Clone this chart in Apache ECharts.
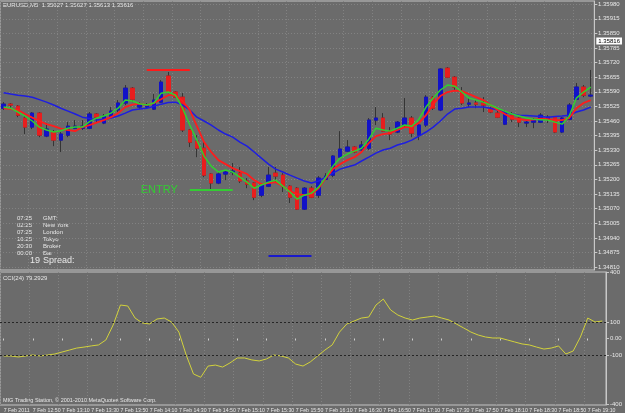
<!DOCTYPE html>
<html>
<head>
<meta charset="utf-8">
<script src="https://cdn.jsdelivr.net/npm/echarts@6/dist/echarts.min.js"></script>
<style>
html, body { margin: 0; padding: 0; background: #6b6b6b; }
#chart { width: 625px; height: 413px; }
</style>
</head>
<body>
<div id="chart"></div>
<script>
// EURUSD M5, 7 Feb 2011
var times = [
	'12:30','12:35','12:40','12:45','12:50','12:55',
	'13:00','13:05','13:10','13:15','13:20','13:25','13:30','13:35','13:40','13:45','13:50','13:55',
	'14:00','14:05','14:10','14:15','14:20','14:25','14:30','14:35','14:40','14:45','14:50','14:55',
	'15:00','15:05','15:10','15:15','15:20','15:25','15:30','15:35','15:40','15:45','15:50','15:55',
	'16:00','16:05','16:10','16:15','16:20','16:25','16:30','16:35','16:40','16:45','16:50','16:55',
	'17:00','17:05','17:10','17:15','17:20','17:25','17:30','17:35','17:40','17:45','17:50','17:55',
	'18:00','18:05','18:10','18:15','18:20','18:25','18:30','18:35','18:40','18:45','18:50','18:55',
	'19:00','19:05','19:10','19:15','19:20'
];

var opens = [
	1.35517,1.35535,1.35526,1.35473,1.35433,1.35495,1.35393,1.35411,1.35375,1.35397,
	1.35428,1.35428,1.35428,1.35491,1.35451,1.35477,1.35509,1.35540,1.35606,1.35522,
	1.35522,1.35513,1.35544,1.35660,1.35589,1.35566,1.35420,1.35371,1.35339,1.35224,
	1.35184,1.35224,1.35233,1.35228,1.35193,1.35184,1.35130,1.35170,1.35228,1.35219,
	1.35170,1.35161,1.35068,1.35161,1.35130,1.35201,1.35219,1.35299,1.35326,1.35344,
	1.35331,1.35339,1.35464,1.35473,1.35415,1.35411,1.35442,1.35473,1.35397,1.35442,
	1.35566,1.35509,1.35695,1.35655,1.35589,1.35535,1.35540,1.35540,1.35513,1.35495,
	1.35446,1.35486,1.35473,1.35451,1.35455,1.35455,1.35468,1.35477,1.35411,1.35468,
	1.35557,1.35611,1.35571
];
var closes = [
	1.35535,1.35531,1.35486,1.35433,1.35495,1.35397,1.35424,1.35375,1.35402,1.35437,
	1.35437,1.35437,1.35491,1.35477,1.35482,1.35504,1.35540,1.35606,1.35557,1.35535,
	1.35531,1.35553,1.35633,1.35589,1.35566,1.35420,1.35366,1.35339,1.35219,1.35184,
	1.35224,1.35233,1.35237,1.35193,1.35179,1.35121,1.35175,1.35219,1.35215,1.35170,
	1.35121,1.35068,1.35161,1.35121,1.35206,1.35215,1.35304,1.35335,1.35344,1.35322,
	1.35353,1.35464,1.35473,1.35415,1.35402,1.35455,1.35473,1.35406,1.35442,1.35566,
	1.35517,1.35691,1.35655,1.35611,1.35540,1.35540,1.35535,1.35531,1.35500,1.35477,
	1.35500,1.35468,1.35455,1.35455,1.35464,1.35486,1.35477,1.35411,1.35473,1.35531,
	1.35611,1.35575,1.35575
];
var lows = [
	1.35509,1.35509,1.35477,1.35402,1.35424,1.35388,1.35388,1.35348,1.35322,1.35388,
	1.35424,1.35420,1.35424,1.35455,1.35446,1.35473,1.35500,1.35531,1.35544,1.35513,
	1.35517,1.35509,1.35540,1.35584,1.35562,1.35411,1.35344,1.35299,1.35210,1.35153,
	1.35179,1.35197,1.35219,1.35184,1.35161,1.35108,1.35121,1.35166,1.35184,1.35144,
	1.35095,1.35064,1.35064,1.35117,1.35117,1.35197,1.35210,1.35295,1.35322,1.35317,
	1.35326,1.35331,1.35442,1.35411,1.35375,1.35406,1.35433,1.35388,1.35375,1.35433,
	1.35509,1.35504,1.35651,1.35598,1.35531,1.35522,1.35517,1.35500,1.35495,1.35473,
	1.35442,1.35455,1.35433,1.35433,1.35428,1.35451,1.35451,1.35406,1.35406,1.35464,
	1.35553,1.35566,1.35566
];
var highs = [
	1.35544,1.35540,1.35531,1.35482,1.35500,1.35500,1.35451,1.35420,1.35411,1.35455,
	1.35464,1.35464,1.35500,1.35495,1.35491,1.35522,1.35553,1.35620,1.35611,1.35544,
	1.35540,1.35580,1.35642,1.35678,1.35593,1.35584,1.35424,1.35397,1.35371,1.35228,
	1.35233,1.35242,1.35273,1.35255,1.35206,1.35188,1.35184,1.35255,1.35255,1.35228,
	1.35175,1.35166,1.35166,1.35170,1.35215,1.35228,1.35308,1.35415,1.35375,1.35348,
	1.35371,1.35473,1.35522,1.35495,1.35433,1.35460,1.35562,1.35482,1.35451,1.35575,
	1.35571,1.35695,1.35700,1.35660,1.35611,1.35566,1.35553,1.35566,1.35522,1.35509,
	1.35509,1.35500,1.35477,1.35464,1.35473,1.35495,1.35486,1.35482,1.35477,1.35540,
	1.35629,1.35620,1.35687
];

// moving averages as drawn on the chart
var maSlow = [
	1.35586,1.35580,1.35575,1.35571,1.35566,1.35555,1.35544,1.35531,1.35517,1.35504,
	1.35491,1.35477,1.35471,1.35464,1.35468,1.35473,1.35482,1.35495,1.35509,1.35513,
	1.35517,1.35526,1.35535,1.35542,1.35544,1.35531,1.35509,1.35477,1.35460,1.35442,
	1.35420,1.35402,1.35388,1.35366,1.35348,1.35322,1.35295,1.35268,1.35246,1.35233,
	1.35219,1.35206,1.35193,1.35184,1.35193,1.35210,1.35228,1.35246,1.35255,1.35264,
	1.35282,1.35299,1.35317,1.35331,1.35339,1.35353,1.35362,1.35375,1.35393,1.35411,
	1.35433,1.35460,1.35491,1.35513,1.35517,1.35522,1.35522,1.35522,1.35517,1.35509,
	1.35500,1.35491,1.35486,1.35484,1.35482,1.35480,1.35477,1.35480,1.35482,1.35486,
	1.35500,1.35509,1.35522
];
var maMid = [
	1.35517,1.35513,1.35509,1.35491,1.35475,1.35460,1.35446,1.35437,1.35426,1.35420,
	1.35415,1.35433,1.35442,1.35453,1.35464,1.35477,1.35495,1.35522,1.35533,1.35537,
	1.35531,1.35540,1.35557,1.35575,1.35575,1.35549,1.35509,1.35437,1.35366,1.35322,
	1.35286,1.35268,1.35250,1.35237,1.35224,1.35197,1.35179,1.35184,1.35188,1.35170,
	1.35148,1.35135,1.35130,1.35135,1.35161,1.35206,1.35246,1.35268,1.35286,1.35299,
	1.35322,1.35362,1.35393,1.35402,1.35406,1.35420,1.35433,1.35433,1.35451,1.35486,
	1.35535,1.35571,1.35589,1.35595,1.35593,1.35580,1.35566,1.35553,1.35531,1.35509,
	1.35491,1.35473,1.35468,1.35464,1.35466,1.35471,1.35468,1.35464,1.35464,1.35473,
	1.35517,1.35540,1.35553
];
var maFast = [
	1.35522,1.35517,1.35500,1.35482,1.35460,1.35433,1.35420,1.35411,1.35417,1.35428,
	1.35433,1.35433,1.35457,1.35473,1.35482,1.35495,1.35517,1.35553,1.35549,1.35537,
	1.35531,1.35540,1.35584,1.35589,1.35575,1.35517,1.35442,1.35375,1.35304,1.35259,
	1.35233,1.35242,1.35233,1.35210,1.35188,1.35161,1.35175,1.35188,1.35197,1.35170,
	1.35144,1.35112,1.35130,1.35139,1.35166,1.35210,1.35259,1.35295,1.35313,1.35326,
	1.35339,1.35379,1.35428,1.35420,1.35415,1.35428,1.35442,1.35437,1.35468,1.35522,
	1.35562,1.35598,1.35620,1.35615,1.35589,1.35562,1.35553,1.35544,1.35531,1.35517,
	1.35504,1.35491,1.35482,1.35473,1.35468,1.35466,1.35464,1.35455,1.35446,1.35482,
	1.35562,1.35589,1.35611
];

var cci = [
	-106,-106,-112,-106,-100,-106,-100,-94,-82,-70,
	-58,-52,-45,-39,-9,82,203,197,124,94,
	88,118,124,100,39,-100,-215,-235,-167,-161,
	-173,-148,-118,-118,-130,-136,-124,-100,-106,-118,
	-155,-167,-142,-106,-70,-39,39,88,106,124,
	130,203,239,173,142,124,112,124,130,136,
	124,112,88,64,39,21,9,3,3,-9,
	-21,-33,-39,-52,-64,-58,-45,-94,-76,9,
	124,100,106
];

var priceTicks = [
	1.34810,1.34875,1.34940,1.35005,1.35070,1.35135,1.35200,1.35265,1.35330,1.35395,
	1.35460,1.35525,1.35590,1.35655,1.35720,1.35785,1.35850,1.35915,1.35980
];
var bidPrice = 1.35816;
var cciTicks = [400, 100, 0, -100, -400];
var cciLevels = [100, -100];

// drawn objects: start bar, end bar, price
var objStart = [20, 26, 37];
var objEnd = [26, 32, 43];
var objPrice = [1.35687, 1.35153, 1.34859];

var infoTimes = ['07:25', '02:25', '07:25', '16:25', '20:30', '00:00'];
var infoNames = ['GMT:', 'New York', 'London', 'Tokyo', 'Broker', 'Bar'];
var spread = '19';

var bull = '#1212c8', bear = '#e81e1e', wickColor = '#353535';
var txt = '#e8e8e8';
var font = 'Liberation Sans, Arial, sans-serif';

var myChart = echarts.init(document.getElementById('chart'));

var candles = [], bodies = [];
for (var i = 0; i < times.length; i++) {
	candles.push([opens[i], closes[i], lows[i], highs[i]]);
	bodies.push([opens[i], closes[i], Math.min(opens[i], closes[i]), Math.max(opens[i], closes[i])]);
}

var objColors = ['#ff1a1a', '#33cc33', '#1a1acc'];
var objLines = [];
for (var k = 0; k < objPrice.length; k++) {
	objLines.push([
		{coord: [objStart[k], objPrice[k]], lineStyle: {color: objColors[k], width: 2, type: 'solid'},
			label: k == 1 ? {show: true, position: 'start', formatter: 'ENTRY', color: '#33cc33', fontSize: 11, distance: 12, fontFamily: font} : {show: false}},
		{coord: [objEnd[k], objPrice[k]]}
	]);
}

var infoGraphics = [];
for (var j = 0; j < infoTimes.length; j++) {
	infoGraphics.push({type: 'text', x: 32, y: 215 + j * 7.1,
		style: {text: infoTimes[j], fill: txt, font: '6px ' + font, textAlign: 'right'}});
	infoGraphics.push({type: 'text', x: 43, y: 215 + j * 7.1,
		style: {text: infoNames[j], fill: txt, font: '6px ' + font}});
}
infoGraphics.push({type: 'text', x: 40, y: 256, style: {text: spread, fill: txt, font: '9px ' + font, textAlign: 'right'}});
infoGraphics.push({type: 'text', x: 43, y: 256, style: {text: 'Spread:', fill: txt, font: '9px ' + font}});

option = {
	backgroundColor: '#6b6b6b',
	animation: false,
	textStyle: {fontFamily: font},
	grid: [
		{left: 0, right: 17, top: 1, height: 269, show: true, borderColor: '#c4c4c4', borderWidth: 1},
		{left: 0, right: 17, top: 272, height: 133, show: true, borderColor: '#c4c4c4', borderWidth: 1}
	],
	xAxis: [
		{
			type: 'category', gridIndex: 0, data: times, boundaryGap: true,
			axisLine: {show: false}, axisTick: {show: false}, axisLabel: {show: false},
			splitLine: {show: true, interval: 3, lineStyle: {color: '#828282', type: [1, 2]}}
		},
		{
			type: 'category', gridIndex: 1, data: times, boundaryGap: true,
			axisLine: {show: false},
			axisTick: {show: true, interval: 3, alignWithLabel: true, length: 2, lineStyle: {color: '#d0d0d0'}},
			axisLabel: {
				interval: 3, align: 'left', fontSize: 5.2, color: txt, margin: 3,
				showMinLabel: true, hideOverlap: false,
				formatter: function(v) { return v === times[0] ? '7 Feb 2011' : '7 Feb ' + v; }
			},
			splitLine: {show: true, interval: 3, lineStyle: {color: '#828282', type: [1, 2]}}
		}
	],
	yAxis: [
		{
			type: 'value', gridIndex: 0, position: 'right', min: 1.34797, max: 1.35994,
			axisLine: {show: true, lineStyle: {color: '#c8c8c8'}},
			axisTick: {show: true, length: 3, customValues: priceTicks, lineStyle: {color: '#c8c8c8'}},
			axisLabel: {
				customValues: priceTicks.concat([bidPrice]), fontSize: 6, color: txt, margin: 2,
				formatter: function(v) {
					return v === bidPrice ? '{bid|' + v.toFixed(5) + '}' : ' ' + v.toFixed(5);
				},
				rich: {bid: {backgroundColor: '#ffffff', color: '#000000', fontSize: 6, padding: [1, 2, 0, 2]}}
			},
			splitLine: {show: true, lineStyle: {color: '#828282', type: [1, 2]}}
		},
		{
			type: 'value', gridIndex: 1, position: 'right', min: -403, max: 403,
			axisLine: {show: true, lineStyle: {color: '#c8c8c8'}},
			axisTick: {show: true, length: 3, customValues: cciTicks, lineStyle: {color: '#c8c8c8'}},
			axisLabel: {customValues: cciTicks, fontSize: 6, color: txt, margin: 4,
				formatter: function(v) { return v === 0 ? '0.00' : String(v); }},
			splitLine: {show: false}
		}
	],
	series: [
		{
			type: 'candlestick', xAxisIndex: 0, yAxisIndex: 0, data: candles, barWidth: 4,
			itemStyle: {color: wickColor, color0: wickColor, borderColor: wickColor, borderColor0: wickColor, borderColorDoji: wickColor, borderWidth: 1},
			silent: true
		},
		{
			type: 'candlestick', xAxisIndex: 0, yAxisIndex: 0, data: bodies, barWidth: 4,
			itemStyle: {color: bull, color0: bear, borderColor: bull, borderColor0: bear, borderColorDoji: bull, borderWidth: 1},
			silent: true,
			markLine: {
				silent: true, symbol: ['none', 'none'], animation: false,
				data: objLines
			}
		},
		{type: 'line', xAxisIndex: 0, yAxisIndex: 0, data: maSlow, showSymbol: false, silent: true,
			lineStyle: {color: '#1e1ee0', width: 1.5}},
		{type: 'line', xAxisIndex: 0, yAxisIndex: 0, data: maMid, showSymbol: false, silent: true,
			lineStyle: {color: '#ff1c1c', width: 1.8}},
		{type: 'line', xAxisIndex: 0, yAxisIndex: 0, data: maFast, showSymbol: false, silent: true,
			lineStyle: {color: '#30d030', width: 1.5}},
		{
			type: 'line', xAxisIndex: 1, yAxisIndex: 1, data: cci, showSymbol: false, silent: true,
			lineStyle: {color: '#d2d23c', width: 1},
			markLine: {
				silent: true, symbol: ['none', 'none'], label: {show: false},
				lineStyle: {color: '#262626', type: [2, 2], width: 1},
				data: cciLevels.map(function(v) { return {yAxis: v}; })
			}
		}
	],
	graphic: [
		{type: 'text', x: 3, y: 2, style: {text: 'EURUSD,M5  1.35627 1.35627 1.35613 1.35616', fill: txt, font: '6px ' + font}},
		{type: 'text', x: 3, y: 275, style: {text: 'CCI(24) 79.2929', fill: txt, font: '6px ' + font}},
		{type: 'text', x: 3, y: 397, style: {text: 'MIG Trading Station, \u00a9 2001-2010 MetaQuotes Software Corp.', fill: txt, font: '5.5px ' + font}}
	].concat(infoGraphics)
};

myChart.setOption(option);
</script>
</body>
</html>
